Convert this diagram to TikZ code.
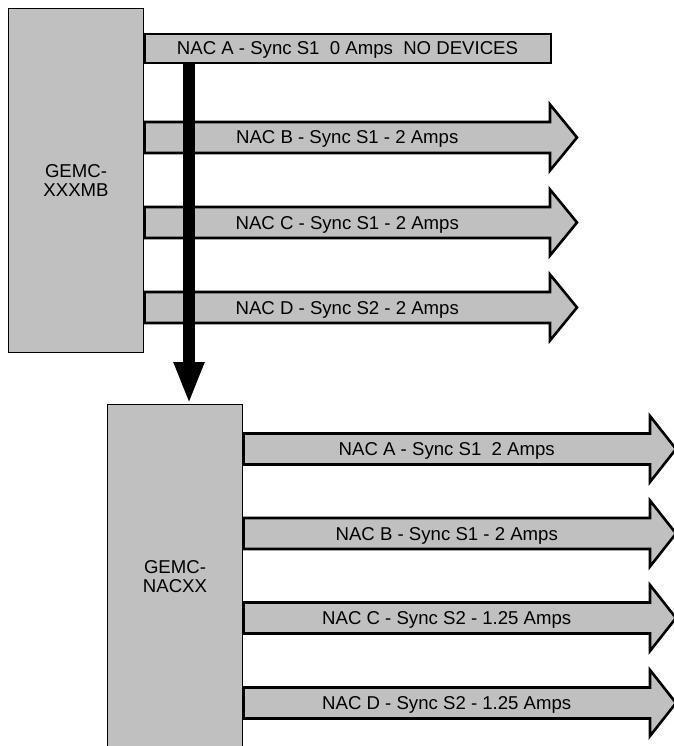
\documentclass[tikz,border=0pt]{standalone}
\usepackage{fontspec}
\setmainfont{Liberation Sans}
\usetikzlibrary{arrows.meta}
\definecolor{boxgray}{HTML}{C0C0C0}
\newcommand{\nacarrow}[6]{% name, x0, xhead, xtip, cy, text
  \draw[nacbar] (#2,#5-15.5) -- (#3,#5-15.5) -- (#3,#5-33) -- (#4,#5) -- (#3,#5+33) -- (#3,#5+15.5) -- (#2,#5+15.5) -- cycle;
  \node[lbl] (#1) at ({(#2+#3)/2},#5+6.5) {#6};
}
\begin{document}
\begin{tikzpicture}[x=1pt,y=-1pt,
  font=\fontsize{18.6}{19.5}\selectfont,
  box/.style={draw=black, line width=1pt, fill=boxgray, minimum width=135pt, minimum height=344pt, inner sep=0pt, align=center, anchor=north west},
  nacbar/.style={draw=black, line width=2.6pt, fill=boxgray, line join=miter},
  lbl/.style={inner sep=0pt, anchor=base},
  bigarrow/.style={line width=12pt, -{Triangle[width=28pt,length=42pt]}}]
\useasboundingbox (0,0) rectangle (673,746);
\fill[white] (0,0) rectangle (673,746);

% main board
\node[box] (mb) at (8,8) {GEMC-\\XXXMB};

% NAC A of main board (no devices)
\draw[nacbar] (144.5,34) -- (551,34) -- (551,63) -- (144.5,63) -- cycle;
\node[lbl] (mbA) at (347.5,55) {NAC A - Sync S1\ \ 0 Amps\ \ NO DEVICES};
\coordinate (src) at (189,63.5);

\nacarrow{mbB}{144.5}{550}{577}{137.5}{NAC B - Sync S1 - 2 Amps}
\nacarrow{mbC}{144.5}{550}{577}{222.5}{NAC C - Sync S1 - 2 Amps}
\nacarrow{mbD}{144.5}{550}{577}{307.5}{NAC D - Sync S2 - 2 Amps}

% expansion board
\node[box] (nx) at (107,404) {GEMC-\\NACXX};

\draw[bigarrow] (src) -- (src |- nx.north);

\nacarrow{nxA}{243.5}{650}{676}{449}{NAC A - Sync S1\ \ 2 Amps}
\nacarrow{nxB}{243.5}{650}{676}{533.5}{NAC B - Sync S1 - 2 Amps}
\nacarrow{nxC}{243.5}{650}{676}{618}{NAC C - Sync S2 - 1.25 Amps}
\nacarrow{nxD}{243.5}{650}{676}{703}{NAC D - Sync S2 - 1.25 Amps}
\end{tikzpicture}
\end{document}
